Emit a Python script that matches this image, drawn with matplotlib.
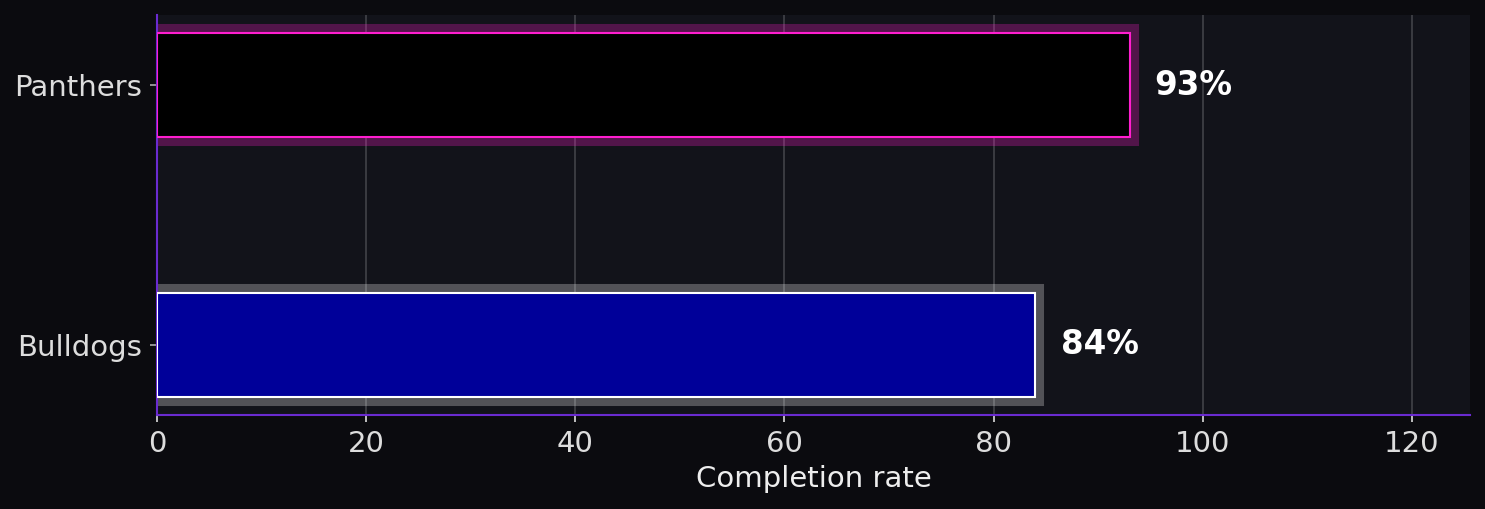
import matplotlib
matplotlib.use("Agg")
import matplotlib.pyplot as plt

plt.rcParams["font.family"] = ["DejaVu Sans"]

teams = ["Bulldogs", "Panthers"]
rates = [84, 93]
face_colors = ["#000099", "#000000"]
edge_colors = ["#ffffff", "#ff1ecf"]

fig = plt.figure(figsize=(14.85, 5.09), dpi=100, facecolor="#0b0b0f")
ax = fig.add_axes([157/1485, 1-415/509, (1470-157)/1485, 400/509])
ax.set_facecolor("#12131a")

ypos = list(range(len(teams)))
# glow
ax.barh(ypos, rates, height=0.4, color="none", edgecolor=edge_colors,
        linewidth=13, alpha=0.27, zorder=2)
ax.barh(ypos, rates, height=0.4, color=face_colors, edgecolor=edge_colors,
        linewidth=1.5, zorder=3)

for y, v in zip(ypos, rates):
    ax.text(v + 2.4, y, f"{v}%", va="center", ha="left", color="white",
            fontsize=23.5, fontweight="bold", zorder=4)

ax.set_yticks(ypos)
ax.set_yticklabels(teams)
ax.set_xlim(0, max(rates) * 1.35)
ax.set_xlabel("Completion rate", color="#eeeeee", fontsize=21, labelpad=5)
ax.tick_params(axis="both", colors="#dddddd", labelsize=21,
               length=5.25, width=1.2, pad=5.25)
ax.tick_params(axis="y", colors="#aaaaaa", labelcolor="#dddddd")
ax.grid(axis="x", color="#ffffff", alpha=0.2, linewidth=1.2, zorder=0)
ax.set_axisbelow(True)
for s in ["top", "right"]:
    ax.spines[s].set_visible(False)
for s in ["left", "bottom"]:
    ax.spines[s].set_color("#6a2bd0")
    ax.spines[s].set_linewidth(1.5)

fig.savefig("out.png", dpi=100, facecolor=fig.get_facecolor())
